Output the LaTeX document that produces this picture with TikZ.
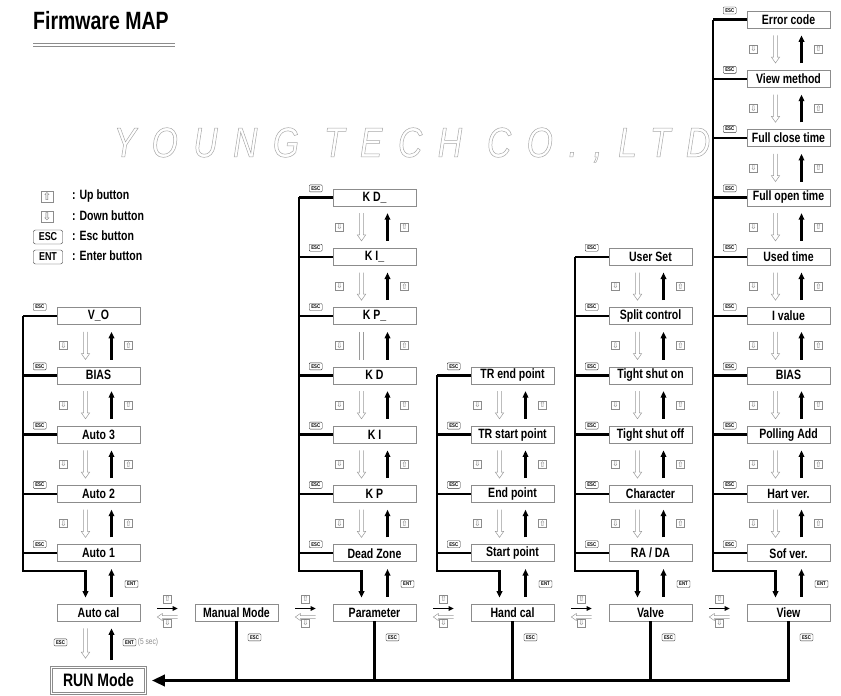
\documentclass[tikz,border=0pt]{standalone}
\usepackage{fontspec}
\setmainfont{Liberation Sans}[FakeStretch=0.78]
\newfontfamily\symfont{DejaVu Sans}
\newfontfamily\wmfont{Liberation Sans}[FakeStretch=0.8, LetterSpace=37]
\usetikzlibrary{arrows.meta, positioning, calc}
\definecolor{frame}{HTML}{8C8C8C}
\definecolor{ghost}{HTML}{9A9A9A}
\definecolor{wmark}{HTML}{A8A8A8}

\begin{document}
\begin{tikzpicture}[
    x = 1pt, y = -1pt,
    node distance = 41.7pt and 54.4pt,
    > = {Triangle[length=6.5pt, width=5.5pt]},
    box/.style    = {draw=frame, line width=0.6pt, minimum width=83pt, minimum height=17pt,
                     inner sep=0pt, font=\fontsize{13.5}{13.5}\selectfont\bfseries},
    runbox/.style = {box, double=white, double distance=1.6pt, minimum width=94pt,
                     minimum height=26pt, font=\fontsize{18}{18}\selectfont\bfseries},
    btn/.style    = {draw=frame, line width=0.4pt, minimum size=8pt, inner sep=0pt,
                     text=black!55, font=\symfont\fontsize{7.5}{7.5}\selectfont},
    lbtn/.style   = {btn, minimum width=12pt, minimum height=11pt, font=\symfont\fontsize{10.5}{10.5}\selectfont},
    esc/.style    = {draw=black!80, line width=0.4pt, rounded corners=1pt, inner sep=0pt,
                     minimum width=13pt, minimum height=7pt, font=\fontsize{5.5}{5.5}\selectfont\bfseries},
    lesc/.style   = {esc, rounded corners=2pt, minimum width=29pt, minimum height=14pt,
                     font=\fontsize{11.5}{11.5}\selectfont\bfseries},
    legend/.style = {anchor=west, inner sep=0pt, font=\fontsize{13.5}{13.5}\selectfont\bfseries},
    up/.style     = {->, line width=2.2pt, shorten <=7pt, shorten >=7pt},
    spine/.style  = {line width=2.4pt},
    bus/.style    = {line width=3.6pt},
    hollowdown/.style = {draw=ghost, line width=0.5pt, to path={let \p1=(\tikztostart), \p2=(\tikztotarget) in
        (\x1-1.8pt,\y1) -- (\x2-1.8pt,\y2+6pt) -- (\x2-4.2pt,\y2+6pt) -- (\x2,\y2)
        -- (\x2+4.2pt,\y2+6pt) -- (\x2+1.8pt,\y2+6pt) -- (\x1+1.8pt,\y1)}},
    hollowleft/.style = {draw=ghost, line width=0.5pt, to path={let \p1=(\tikztostart), \p2=(\tikztotarget) in
        (\x1,\y1+1.5pt) -- (\x2+5pt,\y2+1.5pt) -- (\x2+5pt,\y2+3.5pt) -- (\x2,\y2)
        -- (\x2+5pt,\y2-3.5pt) -- (\x2+5pt,\y2-1.5pt) -- (\x1,\y1-1.5pt)}},
]
\useasboundingbox (0,0) rectangle (841,696);

% --------------------------------------------- title ---------------------------------------------
\node[anchor=west, inner sep=0pt, font=\fontsize{25}{25}\selectfont\bfseries] (title) at (33,21) {Firmware MAP};
\draw[frame, line width=0.8pt] (33,43) -- (175,43) (33,46.5) -- (175,46.5);

\node[text=wmark, font=\wmfont\itshape\fontsize{42}{42}\selectfont] (wm) at (412,145)
    {\special{pdf:literal direct 1 Tr 0.5 w}YOUNG TECH CO.,LTD\special{pdf:literal direct 0 Tr}};

% --------------------------------------------- legend --------------------------------------------
\node[lbtn] (lup)  at (47,197) {⇧};
\node[lbtn] (ldn)  at (47,216.5) {⇩};
\node[lesc] (lesc) at (48,237) {ESC};
\node[lesc] (lent) at (48,257) {ENT};
\node[legend] (tup)  at (72,196)   {: Up button};
\node[legend] (tdn)  at (72,216)   {: Down button};
\node[legend] (tesc) at (72,236)   {: Esc button};
\node[legend] (tent) at (72,256)   {: Enter button};

% ------------------------------------------- main row --------------------------------------------
\node[box] (auto) at (98.5,612.5) {Auto cal};
\node[box, right=of auto]   (manual) {Manual Mode};
\node[box, right=of manual] (param)  {Parameter};
\node[box, right=of param]  (hand)   {Hand cal};
\node[box, right=of hand]   (valve)  {Valve};
\node[box, right=of valve]  (view)   {View};
\node[runbox] (run) at (98.5,680.5) {RUN Mode};

% ------------------------------------------- auto cal --------------------------------------------
\node[box, above=of auto] (a1)    {Auto 1};
\node[box, above=of a1]   (a2)    {Auto 2};
\node[box, above=of a2]   (a3)    {Auto 3};
\node[box, above=of a3]   (biasA) {BIAS};
\node[box, above=of biasA](vo)    {V\_O};

% ------------------------------------------- parameter -------------------------------------------
\node[box, above=of param] (dz)  {Dead Zone};
\node[box, above=of dz]    (kp)  {K P};
\node[box, above=of kp]    (ki)  {K I};
\node[box, above=of ki]    (kd)  {K D};
\node[box, above=of kd]    (kp2) {K P\_};
\node[box, above=of kp2]   (ki2) {K I\_};
\node[box, above=of ki2]   (kd2) {K D\_};

% ------------------------------------------- hand cal --------------------------------------------
\node[box, above=of hand] (sp)  {Start point};
\node[box, above=of sp]   (ep)  {End point};
\node[box, above=of ep]   (trs) {TR start point};
\node[box, above=of trs]  (tre) {TR end point};

% --------------------------------------------- valve ---------------------------------------------
\node[box, above=of valve] (rada)  {RA / DA};
\node[box, above=of rada]  (chr)   {Character};
\node[box, above=of chr]   (tsoff) {Tight shut off};
\node[box, above=of tsoff] (tson)  {Tight shut on};
\node[box, above=of tson]  (sc)    {Split control};
\node[box, above=of sc]    (us)    {User Set};

% ---------------------------------------------- view ---------------------------------------------
\node[box, above=of view]  (sv)    {Sof ver.};
\node[box, above=of sv]    (hv)    {Hart ver.};
\node[box, above=of hv]    (pa)    {Polling Add};
\node[box, above=of pa]    (biasV) {BIAS};
\node[box, above=of biasV] (iv)    {I value};
\node[box, above=of iv]    (ut)    {Used time};
\node[box, above=of ut]    (fot)   {Full open time};
\node[box, above=of fot]   (fct)   {Full close time};
\node[box, above=of fct]   (vm)    {View method};
\node[box, above=of vm]    (err)   {Error code};

% --------------------------------------------- spines --------------------------------------------
\coordinate (spA) at ([xshift=-34pt]vo.west);
\coordinate (spP) at ([xshift=-34pt]kd2.west);
\coordinate (spH) at ([xshift=-34pt]tre.west);
\coordinate (spL) at ([xshift=-34pt]us.west);
\coordinate (spV) at ([xshift=-34pt]err.west);

\foreach \n/\s in {vo/spA, biasA/spA, a3/spA, a2/spA, a1/spA,
                   kd2/spP, ki2/spP, kp2/spP, kd/spP, ki/spP, kp/spP, dz/spP,
                   tre/spH, trs/spH, ep/spH, sp/spH,
                   us/spL, sc/spL, tson/spL, tsoff/spL, chr/spL, rada/spL,
                   err/spV, vm/spV, fct/spV, fot/spV, ut/spV, iv/spV, biasV/spV, pa/spV, hv/spV, sv/spV} {
    \draw[spine] (\n.west) -- (\n.west -| \s);
    \node[esc] (esc\n) at ([xshift=-17pt,yshift=9pt]\n.west) {ESC};
}

\foreach \s/\t/\b in {spA/a1/auto, spP/dz/param, spH/sp/hand, spL/rada/valve, spV/sv/view} {
    \draw[spine, ->, shorten >=6pt] (\s) |- ([xshift=-13pt,yshift=-9pt]\t.south) -- ([xshift=-13pt]\b.north);
    \draw[up] ([xshift=13pt]\b.north) -- ([xshift=13pt]\t.south);
    \node[esc] (ent\b) at ([xshift=33pt,yshift=-22pt]\t.south) {ENT};
}

% ------------------------------------------- up / down -------------------------------------------
\foreach \u/\l in {vo/biasA, biasA/a3, a3/a2, a2/a1,
                   kd2/ki2, ki2/kp2, kd/ki, ki/kp, kp/dz,
                   tre/trs, trs/ep, ep/sp,
                   us/sc, sc/tson, tson/tsoff, tsoff/chr, chr/rada,
                   err/vm, vm/fct, fct/fot, fot/ut, ut/iv, iv/biasV, biasV/pa, pa/hv, hv/sv} {
    \draw[hollowdown] ([xshift=-13pt,yshift=-7pt]\u.south) to ([xshift=-13pt,yshift=7pt]\l.north);
    \draw[up] ([xshift=13pt]\l.north) -- ([xshift=13pt]\u.south);
    \node[btn] (dn\u) at ($([xshift=-35pt]\u.south)!0.5!([xshift=-35pt]\l.north)$) {⇩};
    \node[btn] (up\u) at ($([xshift=30pt]\u.south)!0.5!([xshift=30pt]\l.north)$) {⇧};
}
\draw[ghost, line width=0.5pt] ([xshift=-14.8pt,yshift=-7pt]kp2.south) -- ([xshift=-14.8pt,yshift=7pt]kd.north)
                               ([xshift=-11.2pt,yshift=-7pt]kp2.south) -- ([xshift=-11.2pt,yshift=7pt]kd.north);
\draw[up] ([xshift=13pt]kd.north) -- ([xshift=13pt]kp2.south);
\node[btn] (dnkp2) at ($([xshift=-35pt]kp2.south)!0.5!([xshift=-35pt]kd.north)$) {⇩};
\node[btn] (upkp2) at ($([xshift=30pt]kp2.south)!0.5!([xshift=30pt]kd.north)$) {⇧};

% ------------------------------------------ left / right -----------------------------------------
\foreach \a/\b in {auto/manual, manual/param, param/hand, hand/valve, valve/view} {
    \draw[->, line width=1.6pt, > = {Triangle[length=5pt, width=4.5pt]}]
        ([xshift=17pt,yshift=4pt]\a.east) -- ([xshift=-17pt,yshift=4pt]\b.west);
    \draw[hollowleft] ([xshift=-17pt,yshift=-4.5pt]\b.west) to ([xshift=17pt,yshift=-4.5pt]\a.east);
    \node[btn] (hu\a) at ($(\a.east)!0.5!(\b.west)+(0,13.5pt)$) {⇧};
    \node[btn] (hd\a) at ($(\a.east)!0.5!(\b.west)+(0,-10.5pt)$) {⇩};
}

% ------------------------------------------- run mode --------------------------------------------
\draw[hollowdown] ([xshift=-13pt,yshift=-7pt]auto.south) to ([xshift=-13pt,yshift=9pt]run.north);
\draw[up] ([xshift=13pt]run.north) -- ([xshift=13pt]auto.south);
\node[esc] (escrun) at ([xshift=-38pt,yshift=-21pt]auto.south) {ESC};
\node[esc] (entrun) at ([xshift=31pt,yshift=-21pt]auto.south) {ENT};
\node[right=1.5pt of entrun, inner sep=0pt, text=frame, font=\fontsize{8.5}{8.5}\selectfont] (hold) {(5 sec)};

\foreach \b in {manual, param, hand, valve} {
    \draw[bus] (\b.south) -- (\b.south |- run.east);
    \node[esc] (out\b) at ([xshift=18pt,yshift=-16pt]\b.south) {ESC};
}
\draw[bus, -{Triangle[length=13pt, width=11pt]}, shorten >=6pt] (view.south) |- (run.east);
\node[esc] (outview) at ([xshift=18pt,yshift=-16pt]view.south) {ESC};

\end{tikzpicture}
\end{document}
